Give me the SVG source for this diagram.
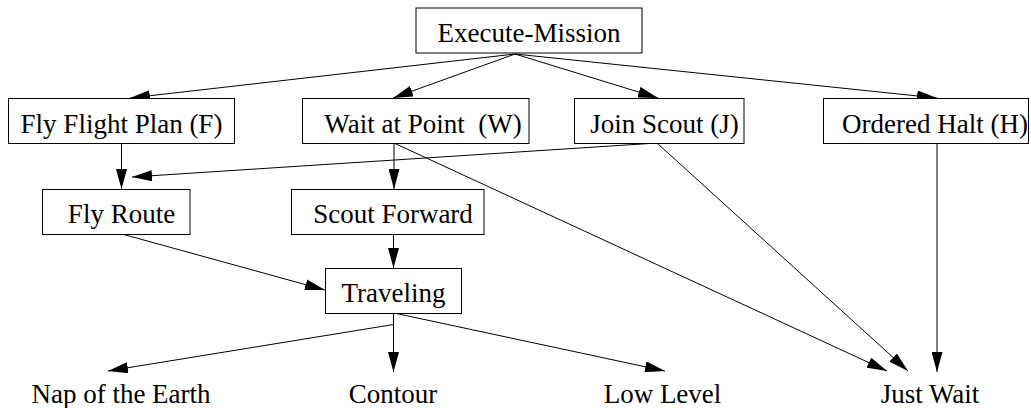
<svg xmlns="http://www.w3.org/2000/svg" width="1031" height="408" viewBox="0 0 1031 408">
<style>
.box{fill:#fff;stroke:#000;stroke-width:1}
.lbl{font-family:"Liberation Serif","Times New Roman",serif;font-size:27px;fill:#000;text-anchor:middle}
.edge{stroke:#000;stroke-width:1;fill:none;marker-end:url(#ah)}
</style>
<defs>
<marker id="ah" markerUnits="userSpaceOnUse" markerWidth="20" markerHeight="11" refX="20" refY="5.5" orient="auto">
<path d="M0,0 L20,5.5 L0,11 z" fill="#000"/>
</marker>
</defs>
<rect width="1031" height="408" fill="#fff"/>
<g id="connectors">
<line class="edge" x1="515" y1="54" x2="130" y2="98"/>
<line class="edge" x1="515" y1="54" x2="393" y2="98"/>
<line class="edge" x1="515" y1="54" x2="658" y2="98"/>
<line class="edge" x1="515" y1="54" x2="937" y2="98"/>
<line class="edge" x1="121.5" y1="143" x2="121.5" y2="189"/>
<line class="edge" x1="657" y1="143" x2="132" y2="177"/>
<line class="edge" x1="394" y1="143" x2="394" y2="189"/>
<line class="edge" x1="394" y1="143" x2="887" y2="371"/>
<line class="edge" x1="657" y1="143" x2="908" y2="371"/>
<line class="edge" x1="937" y1="143" x2="937" y2="372"/>
<line class="edge" x1="393.5" y1="234" x2="393.5" y2="268"/>
<line class="edge" x1="122" y1="234" x2="325" y2="290"/>
<line class="edge" x1="393.5" y1="324.5" x2="108" y2="371"/>
<line class="edge" x1="393.5" y1="313" x2="393.5" y2="372"/>
<line class="edge" x1="394" y1="313" x2="665" y2="371"/>
</g>
<g id="execute-mission">
<rect class="box" x="416" y="8" width="226" height="45"/>
<text class="lbl" x="529" y="42">Execute-Mission</text>
</g>
<g id="fly-flight-plan">
<rect class="box" x="8.5" y="98.5" width="226" height="45"/>
<text class="lbl" x="121.5" y="133">Fly Flight Plan (F)</text>
</g>
<g id="wait-at-point">
<rect class="box" x="302.5" y="98.5" width="226.5" height="45"/>
<text class="lbl" x="423" y="133" xml:space="preserve">Wait at Point  (W)</text>
</g>
<g id="join-scout">
<rect class="box" x="574.5" y="98.5" width="169.5" height="45"/>
<text class="lbl" x="664.5" y="133">Join Scout (J)</text>
</g>
<g id="ordered-halt">
<rect class="box" x="823.5" y="98.5" width="205" height="45"/>
<text class="lbl" x="935" y="133">Ordered Halt (H)</text>
</g>
<g id="fly-route">
<rect class="box" x="42.5" y="189.5" width="147.5" height="45"/>
<text class="lbl" x="121.5" y="223">Fly Route</text>
</g>
<g id="scout-forward">
<rect class="box" x="291.5" y="189.5" width="192.5" height="45"/>
<text class="lbl" x="393" y="223">Scout Forward</text>
</g>
<g id="traveling">
<rect class="box" x="325.5" y="268.5" width="136" height="45"/>
<text class="lbl" x="393.5" y="302">Traveling</text>
</g>
<g id="nap-of-the-earth">
<text class="lbl" x="121" y="403">Nap of the Earth</text>
</g>
<g id="contour">
<text class="lbl" x="393" y="403">Contour</text>
</g>
<g id="low-level">
<text class="lbl" x="662.5" y="403">Low Level</text>
</g>
<g id="just-wait">
<text class="lbl" x="930" y="403">Just Wait</text>
</g>
</svg>
